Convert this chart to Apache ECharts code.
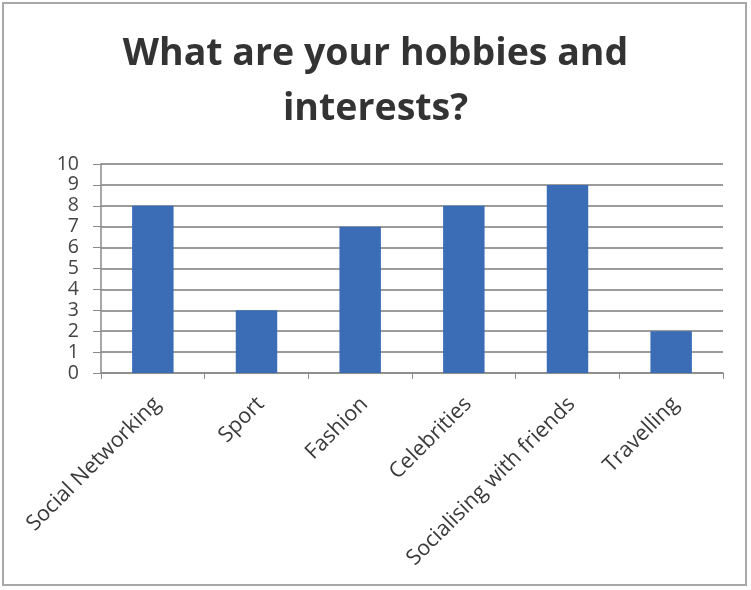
<!DOCTYPE html>
<html>
<head>
<meta charset="utf-8">
<script src="https://cdn.jsdelivr.net/npm/echarts@6/dist/echarts.min.js"></script>
<style>
  html, body { margin: 0; padding: 0; background: #fff; }
  #frame { position: absolute; left: 2px; top: 2px; width: 745px; height: 584px; border: 2px solid #a8a8a8; box-sizing: border-box; }
  #chart { position: absolute; left: 0; top: 0; width: 751px; height: 590px; }
</style>
</head>
<body>
<div id="frame"></div>
<div id="chart"></div>
<script>
// Survey answers: how many people picked each hobby
const categories = ['Social Networking', 'Sport', 'Fashion', 'Celebrities', 'Socialising with friends', 'Travelling'];
const counts = [8, 3, 7, 8, 9, 2];
const yTicks = [0, 1, 2, 3, 4, 5, 6, 7, 8, 9, 10];

const chart = echarts.init(document.getElementById('chart'), null, { renderer: 'canvas' });
chart.setOption({
  backgroundColor: 'transparent',
  animation: false,
  title: {
    text: 'What are your hobbies and\ninterests?',
    left: 'center',
    top: 22,
    padding: [5, 0, 5, 9],
    textStyle: {
      fontFamily: 'Open Sans',
      fontWeight: 'bold',
      fontSize: 37.5,
      lineHeight: 55,
      color: '#333333'
    }
  },
  grid: { left: 101, right: 28, top: 164, bottom: 217, containLabel: false },
  xAxis: {
    type: 'category',
    data: categories,
    axisLine: { lineStyle: { color: '#8a8a8a', width: 1.5 } },
    axisTick: { show: true, length: 6, lineStyle: { color: '#8a8a8a' } },
    axisLabel: {
      rotate: 45,
      interval: 0,
      fontFamily: 'Open Sans',
      fontSize: 21.5,
      color: '#3a3a3a',
      margin: 32,
      padding: [0, -6, 0, 0]
    }
  },
  yAxis: {
    type: 'value',
    min: yTicks[0],
    max: yTicks[yTicks.length - 1],
    interval: 1,
    axisLine: { show: true, lineStyle: { color: '#8a8a8a', width: 1.5 } },
    axisTick: { show: true, length: 8, lineStyle: { color: '#8a8a8a' } },
    splitLine: { lineStyle: { color: '#7a7a7a', width: 1.5 } },
    axisLabel: {
      fontFamily: 'Open Sans',
      fontSize: 19.5,
      color: '#444444',
      margin: 22
    }
  },
  series: [{
    type: 'bar',
    data: counts,
    barWidth: '40%',
    itemStyle: { color: '#3a6db6' }
  }]
});
</script>
</body>
</html>
